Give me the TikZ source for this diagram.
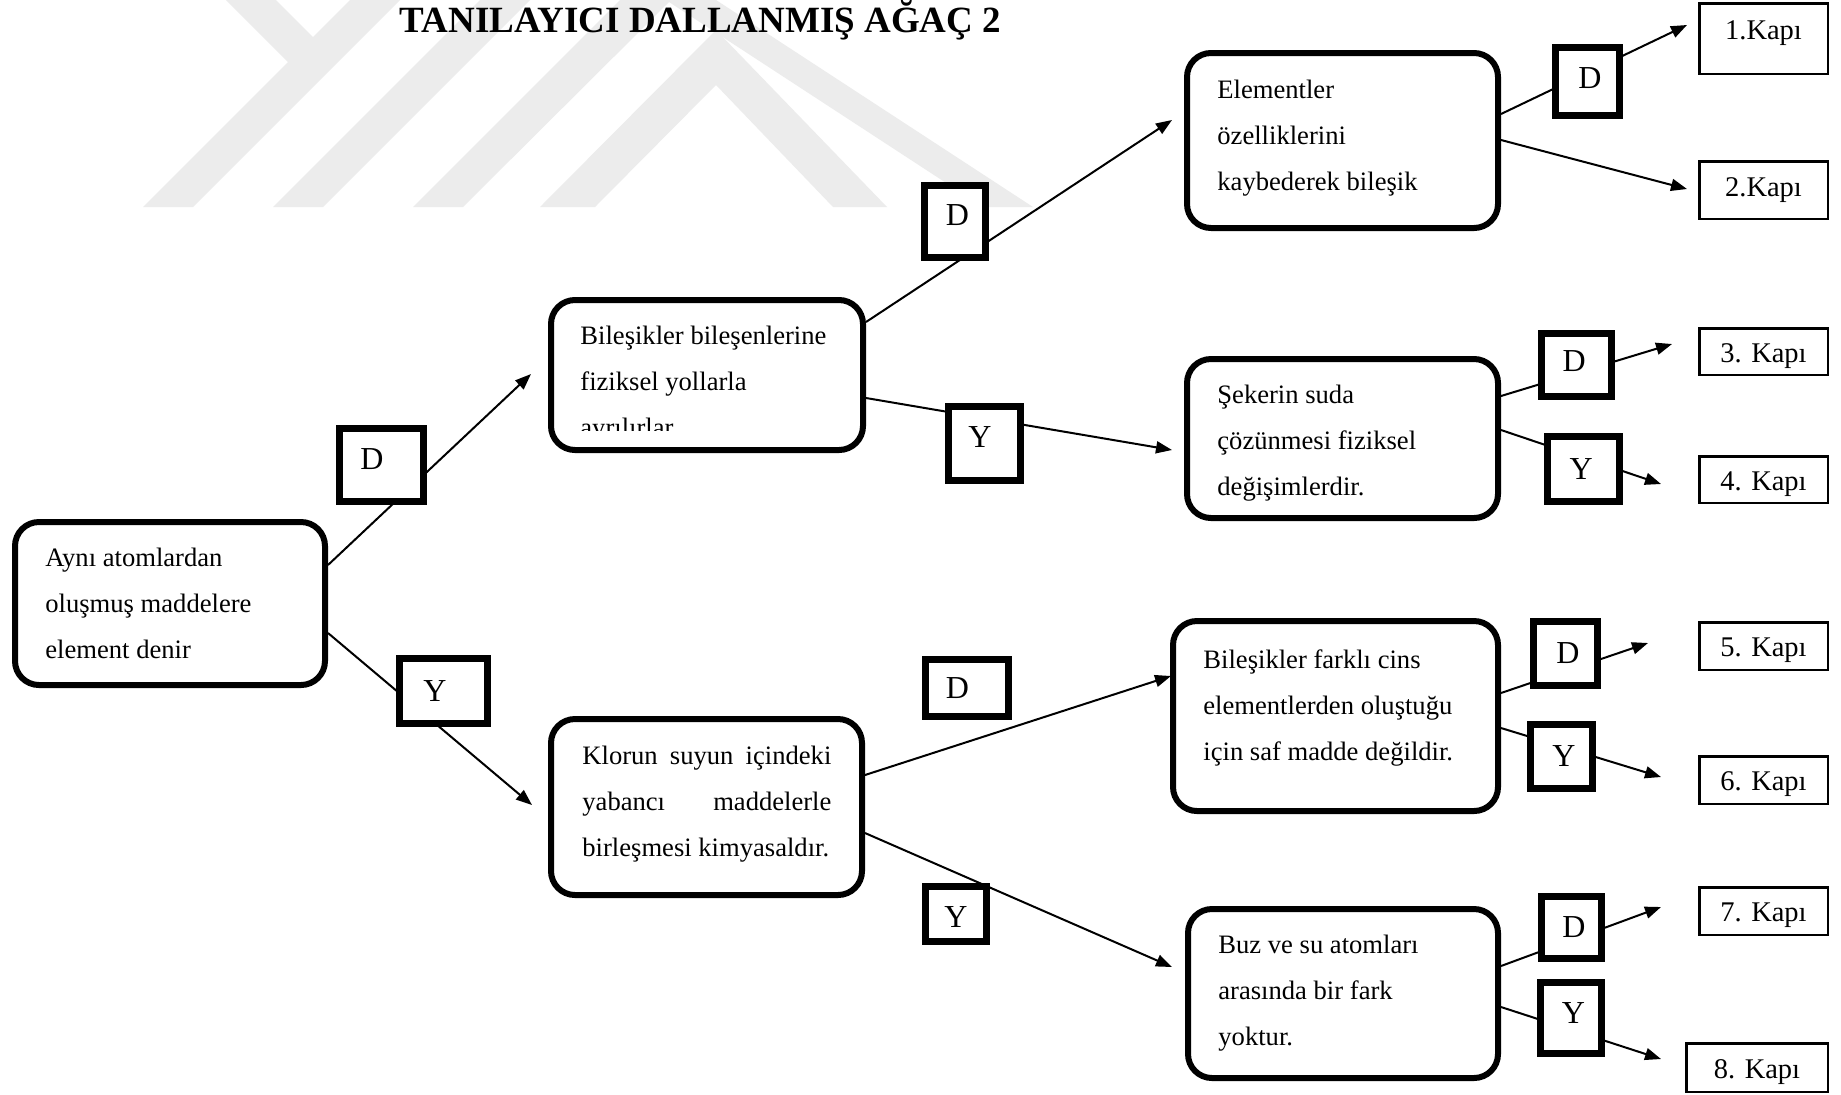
\documentclass[tikz,border=0pt]{standalone}
\usepackage{fontspec}
\setmainfont{Liberation Serif}
\usetikzlibrary{arrows.meta,calc}
\definecolor{markgray}{RGB}{236,236,236}
% answer letter: #1 moves it left (negative: right), #2 raises it
\newcommand\ans[3]{\makebox[0pt]{\raisebox{#2}[\height][\depth]{#3}\hspace*{#1}}}

\begin{document}
\begin{tikzpicture}[x=0.5pt,y=-0.5pt,
  roundbox/.style={draw, line width=3pt, rounded corners=12pt, fill=white, inner sep=0pt},
  answer/.style={draw, line width=3.5pt, fill=white, inner sep=0pt,
    font=\fontsize{16pt}{16pt}\selectfont},
  door/.style={draw, line width=1.25pt, fill=white, inner sep=0pt, minimum width=64.25pt,
    text height=10.5pt, text depth=0pt, font=\fontsize{14.25pt}{16pt}\selectfont},
  textblock/.style={align=left, inner sep=0pt, anchor=west,
    font=\fontsize{13.3pt}{23pt}\selectfont},
  arrowline/.style={line width=1pt, -{Triangle[length=8pt,width=6pt]}}
]
\useasboundingbox (0,0) rectangle (1841,1094);
\fill[white] (0,0) rectangle (1841,1094);

% faint background emblem
\fill[markgray] (226,0) -- (276,0) -- (313,37) -- (350,0) -- (400,0)
  -- (193,207) -- (143,207) -- (288,62) -- cycle;
\fill[markgray] (480,0) -- (530,0) -- (323,207) -- (273,207) -- cycle;
\fill[markgray] (413,207) -- (620,0) -- (716,0) -- (1033,207) -- (983,207)
  -- (669,2) -- (463,207) -- cycle;
\fill[markgray] (540,207) -- (716,30) -- (887,207) -- (833,207) -- (716,85)
  -- (595,207) -- cycle;

% title
\node[font=\fontsize{18.5pt}{22pt}\selectfont\bfseries, anchor=base] (title)
  at (700.5,32) {TANILAYICI DALLANMIŞ AĞAÇ 2};

% statement boxes
\node[roundbox, minimum width=155pt, minimum height=81.5pt] (A) at (170,603.5) {};
\node[roundbox, minimum width=156pt, minimum height=75pt] (B) at (707,375) {};
\node[roundbox, minimum width=155.5pt, minimum height=88pt] (C) at (706.5,807) {};
\node[roundbox, minimum width=155.5pt, minimum height=87.5pt] (D) at (1342.5,140.5) {};
\node[roundbox, minimum width=155.5pt, minimum height=79.5pt] (E) at (1342.5,438.5) {};
\node[roundbox, minimum width=162.5pt, minimum height=95pt] (F) at (1335.5,716) {};
\node[roundbox, minimum width=155pt, minimum height=84.5pt] (G) at (1343,993.5) {};

\node[textblock] (At) at (45,603) {Aynı atomlardan\\oluşmuş maddelere\\element denir};
\begin{scope}
  \clip (548,297) rectangle (866,430);
  \node[textblock] (Bt) at (580,384) {Bileşikler bileşenlerine\\fiziksel yollarla\\ayrılırlar};
\end{scope}
\node[textblock] (Ct) at (582,804.5) {\makebox[124.5pt][s]{Klorun suyun içindeki}\\
  \makebox[124.5pt][s]{yabancı maddelerle}\\birleşmesi kimyasaldır.};
\node[textblock] (Dt) at (1217,138) {Elementler\\özelliklerini\\kaybederek bileşik};
\node[textblock] (Et) at (1217,443) {Şekerin suda\\çözünmesi fiziksel\\değişimlerdir.};
\node[textblock] (Ft) at (1203,707.5) {Bileşikler farklı cins\\elementlerden oluştuğu\\için saf madde değildir.};
\node[textblock] (Gt) at (1218,993.5) {Buz ve su atomları\\arasında bir fark\\yoktur.};

% outcome boxes
\node[door, minimum height=35.25pt, text height=9.7pt, text depth=8.4pt] (K1) at (1763.5,38.5) {1.Kapı};
\node[door, minimum height=28.75pt, text height=9.7pt, text depth=3.1pt] (K2) at (1763.5,190) {2.Kapı};
\node[door, minimum height=23.25pt] (K3) at (1763.5,351.5) {3. Kapı};
\node[door, minimum height=23.25pt] (K4) at (1763.5,479.5) {4. Kapı};
\node[door, minimum height=23.75pt] (K5) at (1763.5,646) {5. Kapı};
\node[door, minimum height=23.75pt] (K6) at (1763.5,780) {6. Kapı};
\node[door, minimum height=23.75pt] (K7) at (1763.5,911) {7. Kapı};
\node[door, minimum width=70.75pt, minimum height=24.25pt] (K8) at (1757,1067.5) {8. Kapı};

% arrow ends
\coordinate (tAB) at (531,374);
\coordinate (tAC) at (532,805);
\coordinate (tBD) at (1172,120);
\coordinate (tBE) at (1172,450);
\coordinate (tCF) at (1171,676);
\coordinate (tCG) at (1172,967);
\coordinate (tD1) at (1687,25);
\coordinate (tD2) at (1687,189);
\coordinate (tE3) at (1672,344);
\coordinate (tE4) at (1661,484);
\coordinate (tF5) at (1648,643);
\coordinate (tF6) at (1661,777);
\coordinate (tG7) at (1661,907);
\coordinate (tG8) at (1661,1059);

% connectors
\draw[arrowline] ($(A.east)+(0,-38.5)$) -- (tAB);
\draw[arrowline] ($(A.east)+(0,29.5)$) -- (tAC);
\draw[arrowline] ($(B.east)+(0,-53)$) -- (tBD);
\draw[arrowline] ($(B.east)+(0,23)$) -- (tBE);
\draw[arrowline] ($(C.east)+(0,-32)$) -- (tCF);
\draw[arrowline] ($(D.east)+(0,-26.5)$) -- (tD1);
\draw[arrowline] ($(D.east)+(0,-0.5)$) -- (tD2);
\draw[arrowline] ($(E.east)+(0,-42.5)$) -- (tE3);
\draw[arrowline] ($(E.east)+(0,-8.5)$) -- (tE4);
\draw[arrowline] ($(F.east)+(0,-23)$) -- (tF5);
\draw[arrowline] ($(F.east)+(0,12)$) -- (tF6);
\draw[arrowline] ($(G.east)+(0,-27.5)$) -- (tG7);
\draw[arrowline] ($(G.east)+(0,13.5)$) -- (tG8);

% answer boxes
\node[answer, minimum width=42pt, minimum height=36.5pt] (LAB) at (381.5,465) {\ans{9.5pt}{3pt}{D}};
\node[answer, minimum width=44pt, minimum height=32.5pt] (LAC) at (443.5,691) {\ans{8.5pt}{0pt}{Y}};
\node[answer, minimum width=30.5pt, minimum height=36pt] (LBD) at (955,221.5) {\ans{-2.3pt}{3pt}{D}};
\node[answer, minimum width=36pt, minimum height=37pt] (LBE) at (984.5,443.5) {\ans{4.5pt}{3pt}{Y}};
\node[answer, minimum width=41.5pt, minimum height=28.5pt] (LCF) at (967,688) {\ans{9.7pt}{0pt}{D}};
\node[answer, minimum width=30.5pt, minimum height=27.5pt] (LCG) at (956,914) {\ans{0pt}{-1.75pt}{Y}};
\node[answer, minimum width=32pt, minimum height=34pt] (LD1) at (1587.5,81.5) {\ans{-2.3pt}{1.75pt}{D}};
\node[answer, minimum width=35pt, minimum height=31.5pt] (LE3) at (1576.5,365) {\ans{2.3pt}{1.75pt}{D}};
\node[answer, minimum width=36pt, minimum height=32.5pt] (LE4) at (1583.5,469) {\ans{2.3pt}{0pt}{Y}};
\node[answer, minimum width=32pt, minimum height=32pt] (LF5) at (1565.5,653.5) {\ans{-2.3pt}{0pt}{D}};
\node[answer, minimum width=31pt, minimum height=32pt] (LF6) at (1561.5,756.5) {\ans{-2.3pt}{0pt}{Y}};
\node[answer, minimum width=30pt, minimum height=31pt] (LG7) at (1571.5,927.5) {\ans{-2.3pt}{0pt}{D}};
\node[answer, minimum width=30.5pt, minimum height=35.5pt] (LG8) at (1571,1018) {\ans{-2.3pt}{2.3pt}{Y}};

% this branch runs across the corner of its answer box
\draw[arrowline] ($(C.east)+(0,26)$) -- (tCG);
\end{tikzpicture}
\end{document}
